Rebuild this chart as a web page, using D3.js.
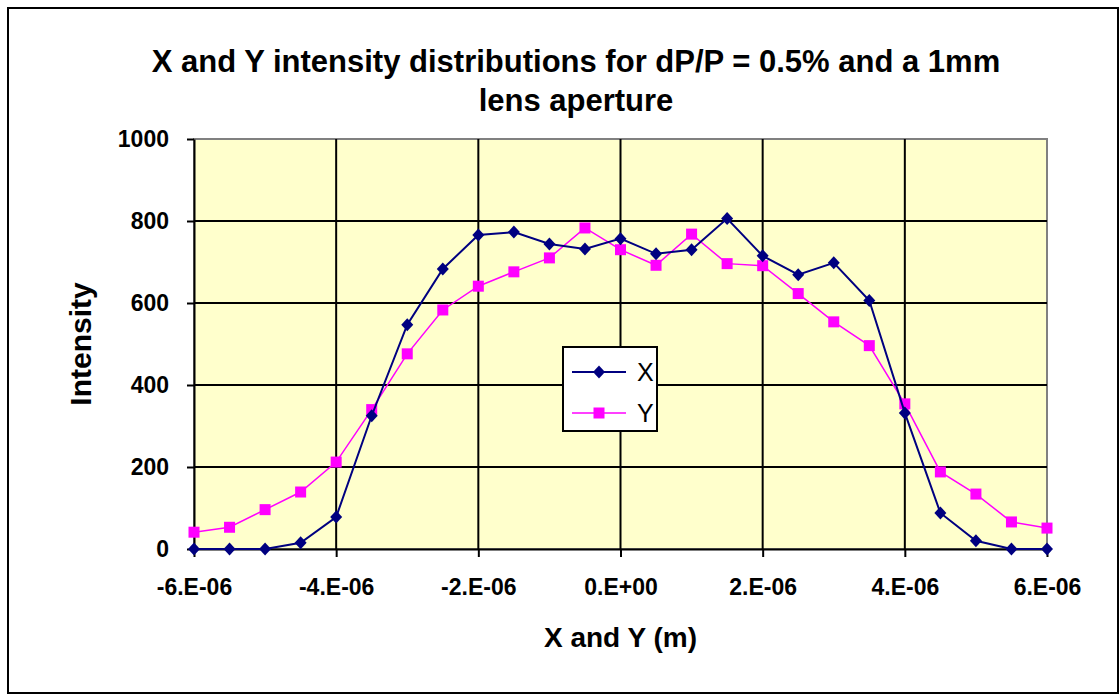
<!DOCTYPE html>
<html>
<head>
<meta charset="utf-8">
<script src="https://cdn.jsdelivr.net/npm/d3@7"></script>
<style>
  body { margin: 0; background: #fff; }
  svg { display: block; font-family: Arial, "Liberation Sans", sans-serif; }
</style>
</head>
<body>
<script>
// positions along the beam profile (m)
var positions = [-6e-6, -5.5e-6, -5e-6, -4.5e-6, -4e-6, -3.5e-6, -3e-6, -2.5e-6, -2e-6, -1.5e-6, -1e-6, -0.5e-6,
  0, 0.5e-6, 1e-6, 1.5e-6, 2e-6, 2.5e-6, 3e-6, 3.5e-6, 4e-6, 4.5e-6, 5e-6, 5.5e-6, 6e-6];

// intensity
var xIntensity = [0, 0, 0, 15, 78, 325, 547, 683, 766, 773, 744, 732,
  757, 720, 730, 806, 715, 669, 698, 606, 332, 88, 20, 0, 0];
var yIntensity = [41, 53, 96, 139, 212, 340, 476, 583, 641, 676, 710, 783,
  730, 692, 768, 696, 691, 623, 554, 496, 354, 188, 134, 66, 51];

var xTicks = [-6e-6, -4e-6, -2e-6, 0, 2e-6, 4e-6, 6e-6];
var yTicks = [0, 200, 400, 600, 800, 1000];

var width = 1119, height = 694;
var plot = { left: 194, right: 1047, top: 139, bottom: 549 };

var svg = d3.select("body").append("svg")
  .attr("width", width)
  .attr("height", height);

// chart border
svg.append("rect")
  .attr("x", 8).attr("y", 8)
  .attr("width", 1110).attr("height", 685)
  .attr("fill", "#fff")
  .attr("stroke", "#000")
  .attr("stroke-width", 2);

var x = d3.scaleLinear().domain([-6e-6, 6e-6]).range([plot.left, plot.right]);
var y = d3.scaleLinear().domain([0, 1000]).range([plot.bottom, plot.top]);

// Excel style scientific labels, e.g. -6.E-06
var sci = function(d) {
  if (d === 0) return "0.E+00";
  var e = Math.floor(Math.log10(Math.abs(d)) + 1e-9);
  var m = Math.round(d / Math.pow(10, e));
  return m + ".E" + (e < 0 ? "-" : "+") + String(Math.abs(e)).padStart(2, "0");
};

// plot background
svg.append("rect")
  .attr("x", plot.left).attr("y", plot.top)
  .attr("width", plot.right - plot.left)
  .attr("height", plot.bottom - plot.top)
  .attr("fill", "#ffffcc")
  .attr("stroke", "#808080")
  .attr("stroke-width", 2);

// gridlines
svg.append("g").selectAll("line").data(yTicks.slice(1, -1)).enter().append("line")
  .attr("x1", plot.left).attr("x2", plot.right)
  .attr("y1", function(d) { return y(d); }).attr("y2", function(d) { return y(d); })
  .attr("stroke", "#000").attr("stroke-width", 2);
svg.append("g").selectAll("line").data(xTicks.slice(1, -1)).enter().append("line")
  .attr("y1", plot.top).attr("y2", plot.bottom)
  .attr("x1", function(d) { return x(d); }).attr("x2", function(d) { return x(d); })
  .attr("stroke", "#000").attr("stroke-width", 2);

// axes
var xAxis = svg.append("g")
  .attr("transform", "translate(0," + plot.bottom + ")")
  .call(d3.axisBottom(x).tickValues(xTicks).tickFormat(sci).tickSize(8).tickSizeOuter(0).tickPadding(22));
var yAxis = svg.append("g")
  .attr("transform", "translate(" + plot.left + ",0)")
  .call(d3.axisLeft(y).tickValues(yTicks).tickFormat(d3.format("d")).tickSize(7).tickSizeOuter(0).tickPadding(18));

[xAxis, yAxis].forEach(function(g) {
  g.select(".domain").attr("stroke", "#000").attr("stroke-width", 2);
  g.selectAll(".tick line").attr("stroke", "#000").attr("stroke-width", 2);
  g.selectAll(".tick text")
    .attr("fill", "#000")
    .attr("font-size", "23px")
    .attr("font-weight", "bold")
    .attr("font-family", "Arial, 'Liberation Sans', sans-serif");
});

// series
var lineGen = d3.line()
  .x(function(d, i) { return x(positions[i]); })
  .y(function(d) { return y(d); });

svg.append("path").datum(yIntensity)
  .attr("d", lineGen)
  .attr("fill", "none")
  .attr("stroke", "#ff00ff")
  .attr("stroke-width", 1.5);
svg.append("g").selectAll("rect").data(yIntensity).enter().append("rect")
  .attr("x", function(d, i) { return x(positions[i]) - 5.5; })
  .attr("y", function(d) { return y(d) - 5.5; })
  .attr("width", 11).attr("height", 11)
  .attr("fill", "#ff00ff");

svg.append("path").datum(xIntensity)
  .attr("d", lineGen)
  .attr("fill", "none")
  .attr("stroke", "#000080")
  .attr("stroke-width", 2);
var diamond = "M0,-6.5L6,0L0,6.5L-6,0Z";
svg.append("g").selectAll("path").data(xIntensity).enter().append("path")
  .attr("d", diamond)
  .attr("transform", function(d, i) { return "translate(" + x(positions[i]) + "," + y(d) + ")"; })
  .attr("fill", "#000080");

// legend
var legend = svg.append("g").attr("transform", "translate(563,347)");
legend.append("rect")
  .attr("width", 94).attr("height", 84)
  .attr("fill", "#fff").attr("stroke", "#000").attr("stroke-width", 2);
var items = [
  { name: "X", color: "#000080", dy: 25 },
  { name: "Y", color: "#ff00ff", dy: 66 }
];
items.forEach(function(it) {
  legend.append("line")
    .attr("x1", 9).attr("x2", 63).attr("y1", it.dy).attr("y2", it.dy)
    .attr("stroke", it.color).attr("stroke-width", it.name === "X" ? 2 : 1.5);
  if (it.name === "X") {
    legend.append("path").attr("d", diamond)
      .attr("transform", "translate(36," + it.dy + ")").attr("fill", it.color);
  } else {
    legend.append("rect").attr("x", 30.5).attr("y", it.dy - 5.5)
      .attr("width", 11).attr("height", 11).attr("fill", it.color);
  }
  legend.append("text")
    .attr("x", 74).attr("y", it.dy + 9)
    .attr("font-size", "25px")
    .attr("fill", "#000")
    .text(it.name);
});

// titles
var title = svg.append("text")
  .attr("text-anchor", "middle")
  .attr("font-size", "31px")
  .attr("font-weight", "bold");
title.append("tspan").attr("x", 576).attr("y", 72)
  .text("X and Y intensity distributions for dP/P = 0.5% and a 1mm");
title.append("tspan").attr("x", 576).attr("y", 111)
  .text("lens aperture");

svg.append("text")
  .attr("x", (plot.left + plot.right) / 2).attr("y", 647)
  .attr("text-anchor", "middle")
  .attr("font-size", "28px")
  .attr("font-weight", "bold")
  .text("X and Y (m)");

svg.append("text")
  .attr("transform", "translate(91," + (plot.top + plot.bottom) / 2 + ") rotate(-90)")
  .attr("text-anchor", "middle")
  .attr("font-size", "30px")
  .attr("font-weight", "bold")
  .text("Intensity");
</script>
</body>
</html>
